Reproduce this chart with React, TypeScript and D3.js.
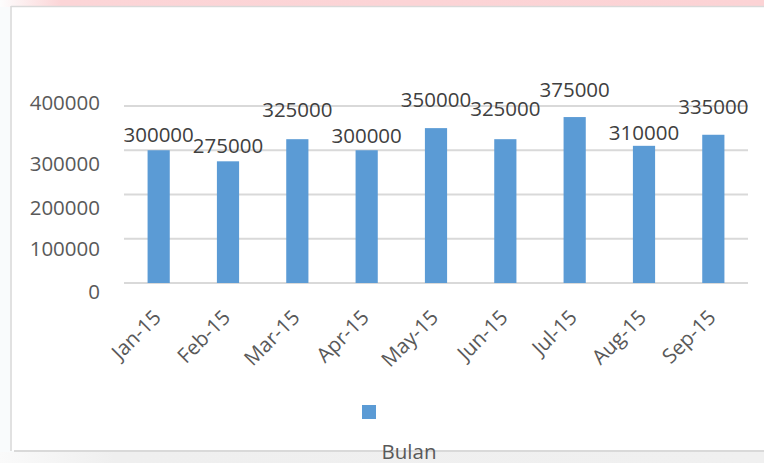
import * as d3 from "d3";
import React from "react";

// data
const months = ["Jan-15", "Feb-15", "Mar-15", "Apr-15", "May-15", "Jun-15", "Jul-15", "Aug-15", "Sep-15"];
const values = [300000, 275000, 325000, 300000, 350000, 325000, 375000, 310000, 335000];
const yTicks = [0, 100000, 200000, 300000, 400000];
const axisTitle = "Bulan";

// how far Excel pushed each data label above its bar (px)
const labelLift = [8, 8, 22, 7, 21, 23, 20, 6, 21];
// the scanned y labels don't sit on their gridlines, nudge them the same way
const yLabelShift = [8, 9, 12, 13, -4];

const W = 764;
const H = 463;
const font = "'Open Sans', 'Noto Sans', sans-serif";

const App = () => {
	const margin = { left: 124, right: 16, top: 106, bottom: 180 };

	const x = d3.scaleBand()
		.domain(months)
		.range([margin.left, W - margin.right])
		.paddingInner(0.68)
		.paddingOuter(0.34);

	const y = d3.scaleLinear()
		.domain([0, 400000])
		.range([H - margin.bottom, margin.top]);

	const gridX0 = margin.left;
	const gridX1 = W - margin.right;

	return (
		<svg width={W} height={H} style={{ position: "absolute", left: 0, top: 0 }}>
			<defs>
				<linearGradient id="pink" x1="0" x2="1" y1="0" y2="0">
					<stop offset="0" stopColor="#fdfdfd" />
					<stop offset="0.08" stopColor="#fcd5d7" />
					<stop offset="1" stopColor="#fcd3d5" />
				</linearGradient>
				<linearGradient id="foot" x1="0" x2="1" y1="0" y2="0">
					<stop offset="0" stopColor="#fafafa" />
					<stop offset="0.15" stopColor="#efefef" />
					<stop offset="1" stopColor="#f0f0f0" />
				</linearGradient>
			</defs>

			{/* page background */}
			<rect x={0} y={0} width={W} height={H} fill="#f9fbfc" />
			<rect x={0} y={0} width={W} height={7} fill="url(#pink)" />
			<rect x={0} y={452} width={W} height={H - 452} fill="url(#foot)" />
			<rect x={12} y={7} width={W - 12} height={444} fill="#ffffff" />

			{/* chart border */}
			<line x1={11} x2={W} y1={6.5} y2={6.5} stroke="#d9d9d9" strokeWidth={1.5} />
			<line x1={11} x2={11} y1={6} y2={451} stroke="#d9d9d9" strokeWidth={1.5} />

			{/* gridlines */}
			{yTicks.map(t => (
				<line key={t} x1={gridX0} x2={gridX1} y1={y(t)} y2={y(t)} stroke="#d9d9d9" strokeWidth={2} />
			))}

			{/* y labels */}
			{yTicks.map((t, i) => (
				<text key={t} x={100} y={y(t) + yLabelShift[i]} textAnchor="end" dominantBaseline="central"
					fontFamily={font} fontSize={20.5} fill="#595959">{t}</text>
			))}

			{/* bars */}
			{months.map((m, i) => (
				<rect key={m} x={x(m)} y={y(values[i])} width={x.bandwidth()}
					height={y(0) - y(values[i])} fill="#5b9bd5" />
			))}

			{/* data labels */}
			{months.map((m, i) => (
				<text key={m} x={(x(m) as number) + x.bandwidth() / 2} y={y(values[i]) - labelLift[i]}
					textAnchor="middle" fontFamily={font} fontSize={20.5} fill="#404040">{values[i]}</text>
			))}

			{/* x labels */}
			{months.map(m => {
				const cx = (x(m) as number) + x.bandwidth() / 2 - 2;
				const cy = 313;
				return (
					<text key={m} x={cx} y={cy} transform={`rotate(-45, ${cx}, ${cy})`}
						textAnchor="end" dominantBaseline="central"
						fontFamily={font} fontSize={20.5} fill="#595959">{m}</text>
				);
			})}

			{/* legend (series without a name) */}
			<rect x={362} y={405} width={14} height={14} fill="#5b9bd5" />

			{/* bottom border + title */}
			<line x1={14} x2={W} y1={451} y2={451} stroke="#d9d9d9" strokeWidth={2} />
			<text x={409} y={459} textAnchor="middle" fontFamily={font} fontSize={20.5} fill="#595959">{axisTitle}</text>
		</svg>
	);
};

export default App;
